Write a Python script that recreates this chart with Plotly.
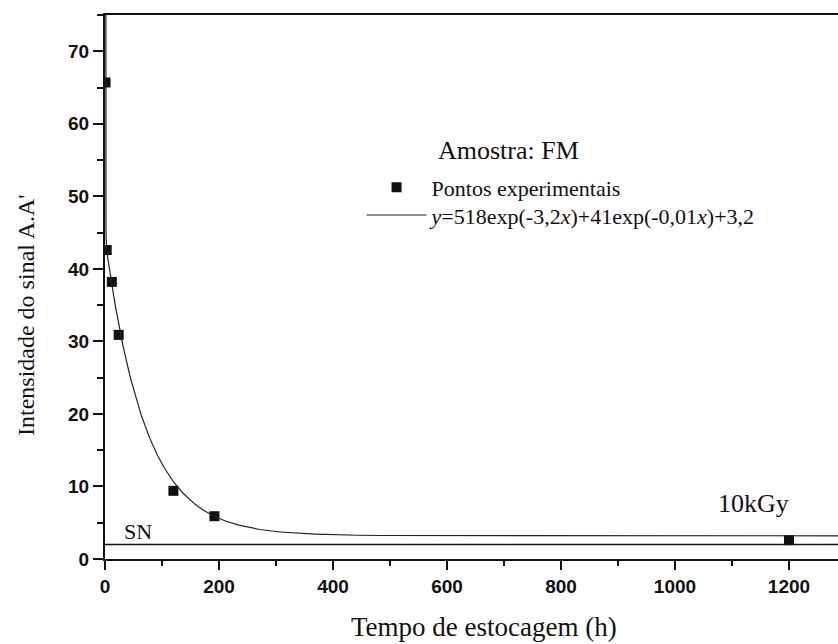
import numpy as np
import plotly.graph_objects as go

# Storage time (h) and signal intensity of the experimental points
tempo_h = [1, 3, 12, 24, 120, 192, 1200]
intensidade = [65.7, 42.6, 38.2, 30.9, 9.4, 5.9, 2.6]

# Bi-exponential fit coefficients: y = a1*exp(-k1*x) + a2*exp(-k2*x) + c
a1, k1 = 518.0, 3.2
a2, k2 = 41.0, 0.0142
c0 = 3.2

# Noise level (SN) line
sn_level = 2.0

x_max = 1286
y_max = 75

x_ticks = [0, 200, 400, 600, 800, 1000, 1200]
y_ticks = [0, 10, 20, 30, 40, 50, 60, 70]


def fmt(v, nd):
    return f"{v:.{nd}f}".replace(".", ",")


fit_label = (
    f"<i>y</i>={a1:.0f}exp(-{fmt(k1, 1)}<i>x</i>)+{a2:.0f}exp(-{fmt(k2, 2)}<i>x</i>)+{fmt(c0, 1)}"
)

x_fit = np.linspace(0, x_max, 6000)
y_fit = a1 * np.exp(-k1 * x_fit) + a2 * np.exp(-k2 * x_fit) + c0

serif = "Liberation Serif"
sans = "Liberation Sans"
ink = "#111"

fig = go.Figure()

fig.add_trace(go.Scatter(
    x=[0, x_max], y=[sn_level, sn_level], mode="lines",
    line=dict(color=ink, width=1.5), showlegend=False, hoverinfo="skip",
))

fig.add_trace(go.Scatter(
    x=tempo_h, y=intensidade, mode="markers", name="Pontos experimentais",
    marker=dict(symbol="square", size=10, color=ink), legend="legend",
))

fig.add_trace(go.Scatter(
    x=x_fit, y=y_fit, mode="lines", name=fit_label,
    line=dict(color="#222", width=1.2), legend="legend2",
))

legend_common = dict(
    x=0.35, xanchor="left", yanchor="middle",
    font=dict(family=serif, size=22, color=ink),
    bgcolor="rgba(0,0,0,0)", itemwidth=60,
)

fig.update_layout(
    width=838, height=644,
    margin=dict(l=105, r=0, t=15, b=85),
    paper_bgcolor="white", plot_bgcolor="white",
    font=dict(family=sans, color=ink),
    showlegend=True,
    legend=dict(y=0.683, **legend_common),
    legend2=dict(y=0.632, **legend_common),
    xaxis=dict(
        range=[0, x_max], tickvals=x_ticks, showgrid=False, zeroline=False,
        showline=True, linecolor=ink, linewidth=2, mirror=True,
        ticks="outside", ticklen=9, tickwidth=2, tickcolor=ink,
        tickfont=dict(family=sans, size=19, color=ink, weight="bold"),
        minor=dict(dtick=100, ticks="outside", ticklen=5, tickwidth=1.5, tickcolor=ink),
    ),
    yaxis=dict(
        range=[0, y_max], tickvals=y_ticks, showgrid=False, zeroline=False,
        showline=True, linecolor=ink, linewidth=2,
        ticks="outside", ticklen=10, tickwidth=2, tickcolor=ink,
        tickfont=dict(family=sans, size=19, color=ink, weight="bold"),
        minor=dict(dtick=5, ticks="outside", ticklen=6, tickwidth=1.5, tickcolor=ink),
    ),
)

fig.add_annotation(
    text="Tempo de estocagem (h)", xref="paper", yref="paper",
    x=(484 - 105) / 733, y=-(627 - 559) / 544, xanchor="center", yanchor="middle",
    showarrow=False, font=dict(family=serif, size=27, color=ink),
)
fig.add_annotation(
    text="Intensidade do sinal A.A'", xref="paper", yref="paper",
    x=-(105 - 26) / 733, y=1 - (315 - 15) / 544, xanchor="center", yanchor="middle",
    showarrow=False, textangle=-90, font=dict(family=serif, size=24, color=ink),
)
fig.add_annotation(
    text="Amostra: FM", xref="paper", yref="paper",
    x=(436 - 105) / 733, y=1 - (150 - 15) / 544, xanchor="left", yanchor="middle",
    showarrow=False, font=dict(family=serif, size=26, color=ink),
)
fig.add_annotation(
    text="SN", x=58, y=3.8, xanchor="center", yanchor="middle", showarrow=False,
    font=dict(family=serif, size=22, color=ink),
)
fig.add_annotation(
    text="10kGy", x=1137, y=7.6, xanchor="center", yanchor="middle", showarrow=False,
    font=dict(family=serif, size=26, color=ink),
)

fig.write_html("out.html")
